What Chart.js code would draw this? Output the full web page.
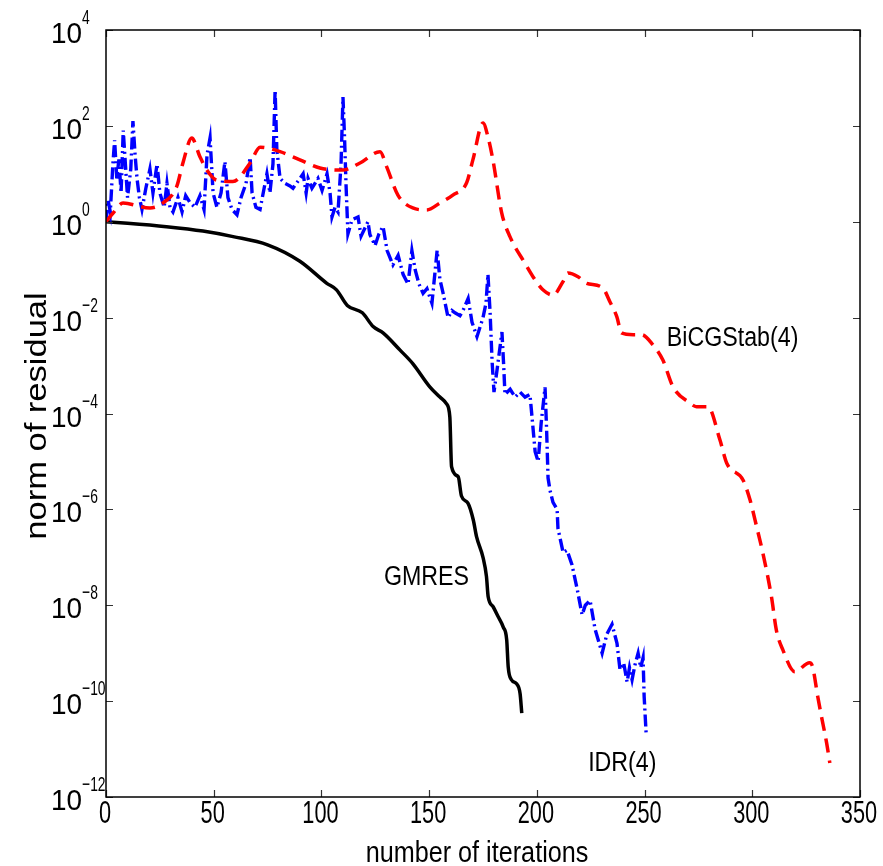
<!DOCTYPE html>
<html>
<head>
<meta charset="utf-8">
<script src="https://cdn.jsdelivr.net/npm/chart.js@4"></script>
<style>
  html, body { margin: 0; padding: 0; background: #fff; }
  #wrap { width: 883px; height: 866px; position: relative; }
</style>
</head>
<body>
<div id="wrap"><canvas id="residual-chart"></canvas></div>
<script>
// residual histories (iteration, norm of residual)
const gmresIter = [0, 10, 28, 45, 59, 75, 90, 102.5, 107, 112, 119, 124, 128.6, 136.5, 142.4, 150.3, 155, 158,
  159.6, 160.4, 163.5, 165, 168, 170.5, 172, 175, 176.6, 177.4, 179.7, 182, 184.4, 186, 186.7, 188.2, 190.6, 192.2, 193];
const gmresRes = [1.0, 0.93, 0.79, 0.64, 0.49, 0.33, 0.15, 0.052, 0.038, 0.018, 0.0126, 6.5e-3, 4.8e-3, 2.1e-3, 1.1e-3, 3.6e-4, 2.2e-4, 1.6e-4,
  8.5e-5, 7.8e-6, 4.8e-6, 1.9e-6, 1.35e-6, 6.0e-7, 2.7e-7, 1.0e-7, 4.0e-8, 1.5e-8, 9.3e-9, 5.8e-9, 3.5e-9, 1.9e-9, 5.2e-10, 2.8e-10, 2.3e-10, 1.45e-10, 5.6e-11];

const bicgIter = [0, 3.3, 7.9, 20.4, 26.4, 32.8, 35.7, 39.8, 43.6, 46.8, 51.3, 58.9, 66.9, 71.5, 80.8, 90, 99.3, 110, 117.9,
  127.2, 130.3, 135.5, 142.4, 148.8, 155, 161, 167.4, 170.3, 175, 177.3, 179.6, 183.7, 187.5, 194.4, 198.2, 202.8, 207.5,
  212.1, 214.4, 219.1, 223.1, 230.5, 233.9, 237.1, 239.3, 244.7, 248.6, 253.9, 258.5, 263.2, 271, 274.1, 279.4, 285, 288.1,
  295.7, 298.9, 302, 304.9, 308.9, 311.2, 314.2, 319.7, 326.6, 328, 330.4, 332.1, 334.5, 336];
const bicgRes = [1.0, 1.52, 2.45, 1.94, 2.45, 5.4, 16.8, 56, 22.7, 12, 7.4, 6.9, 16.8, 36, 29, 19.5, 13.2, 12, 16.8,
  29, 14, 3.6, 1.94, 1.76, 2.45, 3.6, 6.5, 19.5, 115, 59, 19.5, 1.52, 0.49, 0.138, 0.0715, 0.038, 0.0295,
  0.056, 0.085, 0.0715, 0.052, 0.042, 0.0215, 0.0105, 4.8e-3, 4.4e-3, 4.4e-3, 2.7e-3, 1.3e-3, 3.6e-4, 1.66e-4, 1.39e-4, 1.39e-4, 2.8e-5, 9.3e-6,
  4.1e-6, 1.6e-6, 4.4e-7, 1.23e-7, 1.5e-8, 3.0e-9, 1.17e-9, 4.1e-10, 6.3e-10, 5.2e-10, 1.23e-10, 4.8e-11, 1.35e-11, 5.1e-12];

const idrIter = [0, 1, 2, 3.2, 4, 5, 6, 7, 8, 9, 10, 11.5, 12.5, 13.5, 14.4, 15.5, 16.7, 18.5, 20.4, 21.8, 23.7, 25, 27, 28.3,
  29.7, 31.1, 33.4, 35.3, 37, 39, 41.3, 43.6, 45.5, 46.9, 48.3, 49.7, 51.5, 53.4, 55.2, 56.6, 58.5, 60.8, 62.7, 65, 66.9,
  67.8, 69.6, 71.5, 73.4, 74.7, 76.1, 77.5, 78.5, 79.3, 80.8, 83.1, 85.4, 86.8, 89.1, 91.5, 92.9, 93.8, 95.6, 98.4, 100.3,
  102.6, 104, 104.9, 106.3, 107.7, 109.1, 110, 110.7, 111.4, 112.3, 114.2, 117, 118.4, 121.6, 122.5, 124.9, 126.7, 128.6,
  130.5, 133.2, 135.6, 137.9, 140.2, 142, 143.5, 145.3, 147.2, 149, 151.3, 153.7, 155, 156.5, 158.8, 160.6, 162, 164.3,
  165.7, 168.1, 169.9, 172.2, 173.6, 175, 176.4, 177.3, 178.3, 179.2, 180.1, 181.5, 183.8, 184.6, 185.2, 187.6, 189.9,
  192.2, 194.5, 196.8, 197.8, 199.2, 200.6, 202, 203.8, 204.5, 205.2, 206.1, 207.5, 209.4, 209.8, 212.2, 214, 216.3,
  218.7, 221, 222.5, 224.7, 227, 230.3, 232.5, 234.9, 237.2, 238.6, 240.3, 241.9, 243, 244.2, 245.5, 247, 248.2, 249.3,
  249.8, 250.7];
const idrRes = [1.0, 2.8, 1.6, 16, 50, 8, 20, 4, 80, 16, 3.2, 12.6, 126, 25, 8, 3.2, 1.8, 5, 12.6, 4, 16, 4, 2, 6.3,
  2, 1.6, 3.2, 1.6, 3.5, 2.5, 2, 3.5, 1.8, 25, 56, 4, 2, 4, 18, 3.2, 1.8, 1.4, 3.2, 6.3, 22,
  4, 2, 1.8, 5, 10, 4, 16, 560, 32, 8, 6.3, 5.6, 5, 7, 10, 4, 8, 5, 8, 4.5,
  10, 4, 1.26, 2, 1.6, 16, 400, 63, 6.3, 0.56, 1.1, 1.26, 0.5, 1.0, 0.54, 0.32, 0.56, 0.8,
  0.25, 0.126, 0.2, 0.08, 0.05, 0.25, 0.1, 0.05, 0.032, 0.04, 0.02, 0.25, 0.063, 0.032, 0.01, 0.014, 0.0126, 0.011,
  0.014, 0.025, 0.008, 0.004, 0.0063, 0.01, 0.02, 0.08, 0.0126, 1.26e-3, 2.8e-4, 8e-4, 5e-3, 1e-3, 2.5e-4, 3.2e-4, 2.2e-4,
  2.8e-4, 2.2e-4, 2.5e-4, 8e-5, 1.6e-5, 1e-5, 6.3e-5, 3.5e-4, 5e-5, 4.5e-6, 2.5e-6, 1.4e-6, 1e-6, 4e-7, 1.26e-7, 1.4e-7, 7e-8,
  2.2e-8, 6.3e-9, 1e-8, 1.26e-8, 3.2e-9, 1e-9, 2.5e-9, 4e-9, 1.6e-9, 4.5e-10, 6.3e-10, 2.5e-10, 5e-10, 2.8e-10, 5.6e-10, 1e-9, 5e-10, 8e-10,
  1.26e-10, 2.2e-11];

const xTicks = [0, 50, 100, 150, 200, 250, 300, 350];
const yTickExps = [4, 2, 0, -2, -4, -6, -8, -10, -12];

// curve names, anchored at left end of text baseline (iteration, residual)
const curveLabels = [
  { text: 'GMRES', iter: 129, res: 2.6e-8 },
  { text: 'BiCGStab(4)', iter: 260.3, res: 2.6e-3 },
  { text: 'IDR(4)', iter: 223.8, res: 3.5e-12 }
];

const FONT = '"Liberation Sans", Arial, Helvetica, sans-serif';

function pts(xs, ys) {
  return xs.map((x, i) => ({ x: x, y: ys[i] }));
}

// text with horizontal squeeze, like the stretched MATLAB export
function squeezedText(ctx, text, x, y, size, align, sx) {
  ctx.save();
  ctx.font = size + 'px ' + FONT;
  const w = ctx.measureText(text).width * sx;
  let left = x;
  if (align === 'center') left = x - w / 2;
  else if (align === 'right') left = x - w;
  ctx.translate(left, y);
  ctx.scale(sx, 1);
  ctx.textAlign = 'left';
  ctx.textBaseline = 'alphabetic';
  ctx.fillStyle = '#000';
  ctx.fillText(text, 0, 0);
  ctx.restore();
  return w;
}

const matlabAxes = {
  id: 'matlabAxes',
  afterDraw(chart) {
    const ctx = chart.ctx;
    const a = chart.chartArea;
    const xs = chart.scales.x, ys = chart.scales.y;
    ctx.save();
    // ticks
    ctx.strokeStyle = '#333';
    ctx.lineWidth = 1.2;
    const tl = 7;
    xTicks.forEach(t => {
      const px = Math.round(xs.getPixelForValue(t)) + 0.5;
      ctx.beginPath();
      ctx.moveTo(px, a.bottom); ctx.lineTo(px, a.bottom - tl);
      ctx.moveTo(px, a.top); ctx.lineTo(px, a.top + tl);
      ctx.stroke();
    });
    yTickExps.forEach(e => {
      const py = Math.round(ys.getPixelForValue(Math.pow(10, e))) + 0.5;
      ctx.beginPath();
      ctx.moveTo(a.left, py); ctx.lineTo(a.left + tl, py);
      ctx.moveTo(a.right, py); ctx.lineTo(a.right - tl, py);
      ctx.stroke();
    });
    // box
    ctx.strokeStyle = '#000';
    ctx.lineWidth = 1.5;
    ctx.strokeRect(a.left, a.top, a.right - a.left, a.bottom - a.top);

    // x tick labels
    xTicks.forEach(t => {
      squeezedText(ctx, String(t), xs.getPixelForValue(t) - 1, a.bottom + 26, 32, 'center', 0.68);
    });
    // y tick labels 10^n
    yTickExps.forEach(e => {
      const py = ys.getPixelForValue(Math.pow(10, e));
      const w = squeezedText(ctx, '10', 51, py + 13, 30, 'left', 0.93);
      squeezedText(ctx, e < 0 ? '\u2212' + (-e) : String(e), 51 + w, py - 6, 21, 'left', 0.66);
    });
    // axis titles
    squeezedText(ctx, 'number of iterations', 477, a.bottom + 65, 30, 'center', 0.84);
    ctx.save();
    ctx.translate(46, 416);
    ctx.rotate(-Math.PI / 2);
    ctx.scale(1.15, 1);
    ctx.font = '30px ' + FONT;
    ctx.textAlign = 'center';
    ctx.fillStyle = '#000';
    ctx.fillText('norm of residual', 0, 0);
    ctx.restore();
    // curve names
    curveLabels.forEach(l => {
      squeezedText(ctx, l.text, xs.getPixelForValue(l.iter), ys.getPixelForValue(l.res), 27, 'left', 0.86);
    });
    ctx.restore();
  }
};

const ctx = document.getElementById('residual-chart').getContext('2d');
new Chart(ctx, {
  type: 'line',
  data: {
    datasets: [
      {
        label: 'BiCGStab(4)',
        data: pts(bicgIter, bicgRes),
        borderColor: '#ff0000',
        borderWidth: 3.5,
        borderDash: [14, 8],
        cubicInterpolationMode: 'monotone',
        pointRadius: 0,
        fill: false
      },
      {
        label: 'IDR(4)',
        data: pts(idrIter, idrRes),
        borderColor: '#0000ff',
        borderWidth: 3.4,
        borderDash: [12, 4, 2, 4],
        tension: 0,
        pointRadius: 0,
        fill: false
      },
      {
        label: 'GMRES',
        data: pts(gmresIter, gmresRes),
        borderColor: '#000000',
        borderWidth: 3.5,
        cubicInterpolationMode: 'monotone',
        pointRadius: 0,
        fill: false
      }
    ]
  },
  options: {
    responsive: true,
    maintainAspectRatio: false,
    animation: false,
    events: [],
    layout: { padding: { left: 106, top: 30, right: 23, bottom: 69 } },
    plugins: {
      legend: { display: false },
      tooltip: { enabled: false }
    },
    scales: {
      x: { type: 'linear', min: 0, max: 350, display: false },
      y: { type: 'logarithmic', min: 1e-12, max: 1e4, display: false }
    }
  },
  plugins: [matlabAxes]
});
</script>
</body>
</html>
